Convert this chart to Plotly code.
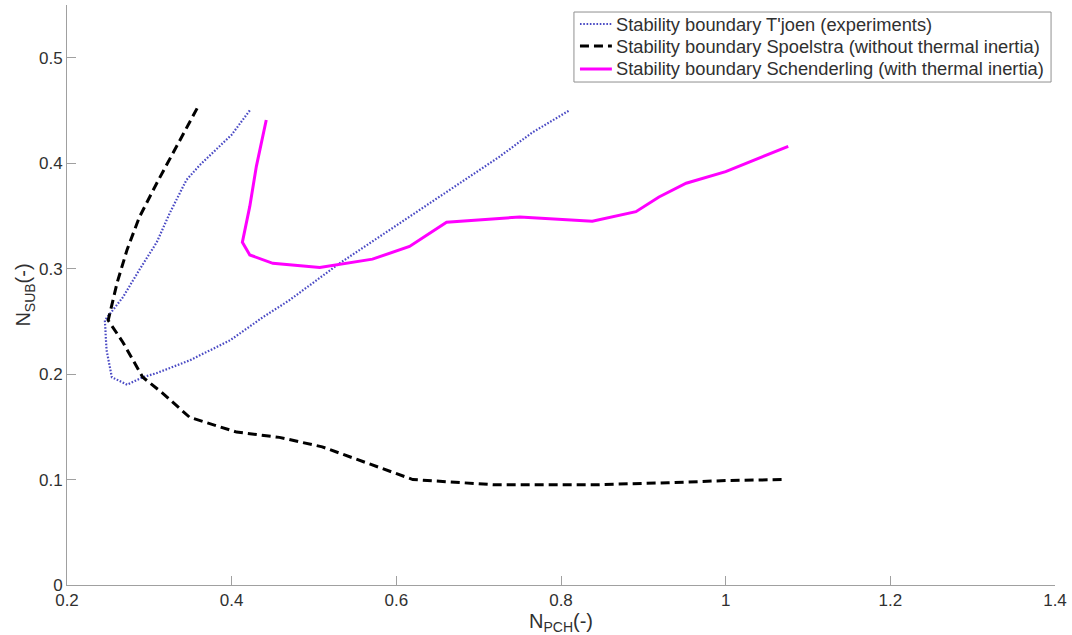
import plotly.graph_objects as go

# Stability boundaries in the N_PCH / N_SUB plane
tjoen_npch = [0.422, 0.400, 0.361, 0.345, 0.325, 0.309, 0.288, 0.268, 0.246, 0.248,
              0.2545, 0.273, 0.292, 0.309, 0.349, 0.398, 0.438, 0.470, 0.531, 0.604,
              0.664, 0.725, 0.765, 0.810]
tjoen_nsub = [0.450, 0.427, 0.398, 0.384, 0.353, 0.325, 0.299, 0.273, 0.251, 0.223,
              0.197, 0.190, 0.197, 0.201, 0.213, 0.232, 0.254, 0.270, 0.305, 0.343,
              0.375, 0.406, 0.429, 0.450]

spoelstra_npch = [0.358, 0.333, 0.309, 0.288, 0.273, 0.261, 0.250, 0.268, 0.292, 0.316,
                  0.349, 0.406, 0.458, 0.510, 0.552, 0.620, 0.720, 0.840, 0.930, 1.000,
                  1.070]
spoelstra_nsub = [0.452, 0.416, 0.381, 0.349, 0.318, 0.287, 0.251, 0.230, 0.197, 0.182,
                  0.159, 0.145, 0.140, 0.131, 0.119, 0.100, 0.095, 0.095, 0.097, 0.099,
                  0.100]

schenderling_npch = [0.442, 0.430, 0.422, 0.413, 0.422, 0.450, 0.507, 0.571, 0.616, 0.661,
                     0.750, 0.838, 0.891, 0.919, 0.952, 1.000, 1.076]
schenderling_nsub = [0.441, 0.397, 0.359, 0.325, 0.313, 0.305, 0.301, 0.309, 0.321, 0.344,
                     0.349, 0.345, 0.354, 0.368, 0.381, 0.392, 0.416]

series_names = [
    "Stability boundary T'joen (experiments)",
    "Stability boundary Spoelstra (without thermal inertia)",
    "Stability boundary Schenderling (with thermal inertia)",
]

x_ticks = [0.2, 0.4, 0.6, 0.8, 1.0, 1.2, 1.4]
x_tick_text = ["0.2", "0.4", "0.6", "0.8", "1", "1.2", "1.4"]
y_ticks = [0, 0.1, 0.2, 0.3, 0.4, 0.5]
y_tick_text = ["0", "0.1", "0.2", "0.3", "0.4", "0.5"]

FONT = "Liberation Sans, Arial, sans-serif"
TEXT = "#303030"
AXIS = "#a0a0a0"

line_styles = [
    dict(color="#4a4ac4", width=2.2, dash="1.6px,1.7px"),
    dict(color="black", width=3, dash="9px,5px"),
    dict(color="#ff00ff", width=3),
]
series_data = [
    (tjoen_npch, tjoen_nsub),
    (spoelstra_npch, spoelstra_nsub),
    (schenderling_npch, schenderling_nsub),
]

fig = go.Figure()
for name, (xs, ys), style in zip(series_names, series_data, line_styles):
    fig.add_trace(go.Scatter(x=xs, y=ys, mode="lines", name=name, line=style))

# Boxed key in the upper right corner (paper coordinates of the plot area)
box_x0, box_x1 = 0.5131, 0.9960
box_y0, box_y1 = 0.8672, 0.9879
row_y = [0.9672, 0.9293, 0.8897]
sample_x0, sample_x1 = 0.5192, 0.5515
label_x = 0.5535

shapes = [dict(type="rect", xref="paper", yref="paper",
               x0=box_x0, x1=box_x1, y0=box_y0, y1=box_y1,
               line=dict(color="#909090", width=1), fillcolor="white", layer="above")]
annotations = []
for name, style, ry in zip(series_names, line_styles, row_y):
    shapes.append(dict(type="line", xref="paper", yref="paper",
                       x0=sample_x0, x1=sample_x1, y0=ry, y1=ry,
                       line=style, layer="above"))
    annotations.append(dict(xref="paper", yref="paper", x=label_x, y=ry,
                            xanchor="left", yanchor="middle", showarrow=False,
                            text=name, font=dict(family=FONT, size=18.3, color=TEXT)))

fig.update_layout(
    width=1072, height=635,
    margin=dict(l=67, r=15, t=5, b=50),
    paper_bgcolor="white", plot_bgcolor="white",
    font=dict(family=FONT, size=17, color=TEXT),
    showlegend=False,
    shapes=shapes,
    annotations=annotations,
)
fig.update_xaxes(
    range=[0.2, 1.4], tickvals=x_ticks, ticktext=x_tick_text,
    showgrid=False, zeroline=False,
    showline=True, linecolor=AXIS, linewidth=1,
    ticks="inside", ticklen=9, tickcolor=AXIS,
    title=dict(text="N<sub>PCH</sub>(-)", standoff=2, font=dict(size=20)),
)
fig.update_yaxes(
    range=[0, 0.55], tickvals=y_ticks, ticktext=y_tick_text,
    showgrid=False, zeroline=False,
    showline=True, linecolor=AXIS, linewidth=1,
    ticks="inside", ticklen=9, tickcolor=AXIS,
    title=dict(text="N<sub>SUB</sub>(-)", standoff=2, font=dict(size=20)),
)

fig.write_html("out.html")
